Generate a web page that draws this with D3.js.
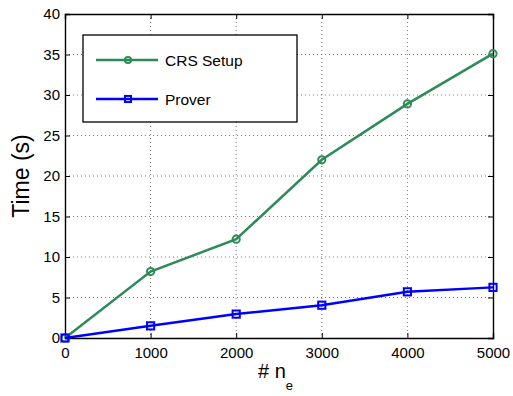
<!DOCTYPE html>
<html>
<head>
<meta charset="utf-8">
<script src="https://cdn.jsdelivr.net/npm/d3@7"></script>
<style>
  body { margin: 0; background: #fff; }
  text { font-family: "Liberation Sans", Arial, sans-serif; }
</style>
</head>
<body>
<script>
'use strict';

// data
const ne = [0, 1000, 2000, 3000, 4000, 5000];
const crsSetup = [0, 8.2, 12.2, 22.0, 28.9, 35.1];
const prover = [0, 1.5, 2.95, 4.05, 5.7, 6.25];
const xTicks = [0, 1000, 2000, 3000, 4000, 5000];
const yTicks = [0, 5, 10, 15, 20, 25, 30, 35, 40];

const W = 513, H = 396;
const margin = {top: 14, right: 20, bottom: 58, left: 65};
const width = W - margin.left - margin.right,
      height = H - margin.top - margin.bottom;

const svg = d3.select('body').append('svg')
  .attr('width', W).attr('height', H);
const g = svg.append('g')
  .attr('transform', 'translate(' + margin.left + ',' + margin.top + ')');

const x = d3.scaleLinear().domain([0, 5000]).range([0, width]);
const y = d3.scaleLinear().domain([0, 40]).range([height, 0]);

// grid
g.append('g').selectAll('line').data(xTicks.slice(1, -1)).enter().append('line')
  .attr('x1', d => x(d)).attr('x2', d => x(d)).attr('y1', 0).attr('y2', height)
  .attr('stroke', '#555').attr('stroke-width', 0.8).attr('stroke-dasharray', '1,3');
g.append('g').selectAll('line').data(yTicks.slice(1, -1)).enter().append('line')
  .attr('y1', d => y(d)).attr('y2', d => y(d)).attr('x1', 0).attr('x2', width)
  .attr('stroke', '#555').attr('stroke-width', 0.8).attr('stroke-dasharray', '1,3');

// axes, ticks pointing inward
const tick = 5;
g.append('g').attr('transform', 'translate(0,' + height + ')')
  .call(d3.axisBottom(x).tickValues(xTicks).tickSize(-tick).tickPadding(9).tickFormat(d3.format('d')));
g.append('g').attr('transform', 'translate(0,0)')
  .call(d3.axisTop(x).tickValues(xTicks).tickSize(-tick).tickFormat(''));
g.append('g')
  .call(d3.axisLeft(y).tickValues(yTicks).tickSize(-tick).tickPadding(5));
g.append('g').attr('transform', 'translate(' + width + ',0)')
  .call(d3.axisRight(y).tickValues(yTicks).tickSize(-tick).tickFormat(''));

g.selectAll('.domain').attr('stroke', '#000').attr('stroke-width', 1.4);
g.selectAll('.tick line').attr('stroke', '#000');
g.selectAll('.tick text').attr('font-size', '15px').attr('fill', '#000')
  .style('font-family', '"Liberation Sans", Arial, sans-serif');

// series
const series = [
  {name: 'CRS Setup', values: crsSetup, color: '#2e8b57', marker: 'circle'},
  {name: 'Prover', values: prover, color: '#0000ff', marker: 'square'}
];

const line = d3.line().x((d, i) => x(ne[i])).y(d => y(d));

function drawMarker(sel, s, cx, cy, k) {
  if (s.marker === 'circle') {
    sel.append('circle').attr('cx', cx).attr('cy', cy).attr('r', 3.6 * k)
      .attr('fill', 'none').attr('stroke', s.color).attr('stroke-width', 2);
  } else {
    sel.append('rect').attr('x', cx - 3.6 * k).attr('y', cy - 3.6 * k)
      .attr('width', 7.2 * k).attr('height', 7.2 * k)
      .attr('fill', 'none').attr('stroke', s.color).attr('stroke-width', 2);
  }
}

series.forEach(s => {
  g.append('path').datum(s.values)
    .attr('d', line).attr('fill', 'none')
    .attr('stroke', s.color).attr('stroke-width', 2.5);
  s.values.forEach((v, i) => drawMarker(g, s, x(ne[i]), y(v), 1));
});

// legend
const legend = svg.append('g').attr('transform', 'translate(83,35)');
legend.append('rect').attr('width', 214).attr('height', 87)
  .attr('fill', '#fff').attr('stroke', '#000').attr('stroke-width', 1.3);
series.forEach((s, i) => {
  const ly = 25 + i * 39;
  legend.append('line').attr('x1', 13).attr('x2', 75).attr('y1', ly).attr('y2', ly)
    .attr('stroke', s.color).attr('stroke-width', 2.5);
  drawMarker(legend, s, 45, ly, 0.85);
  legend.append('text').attr('x', 82).attr('y', ly + 5.5)
    .attr('font-size', '15.5px').text(s.name);
});

// axis labels
svg.append('text')
  .attr('transform', 'translate(29,' + (margin.top + height / 2) + ') rotate(-90)')
  .attr('text-anchor', 'middle').attr('font-size', '23px').text('Time (s)');

const xl = svg.append('text')
  .attr('x', 258).attr('y', 378)
  .attr('font-size', '20px');
xl.append('tspan').text('# n');
xl.append('tspan').attr('font-size', '13px').attr('dy', 12).text('e');
</script>
</body>
</html>
